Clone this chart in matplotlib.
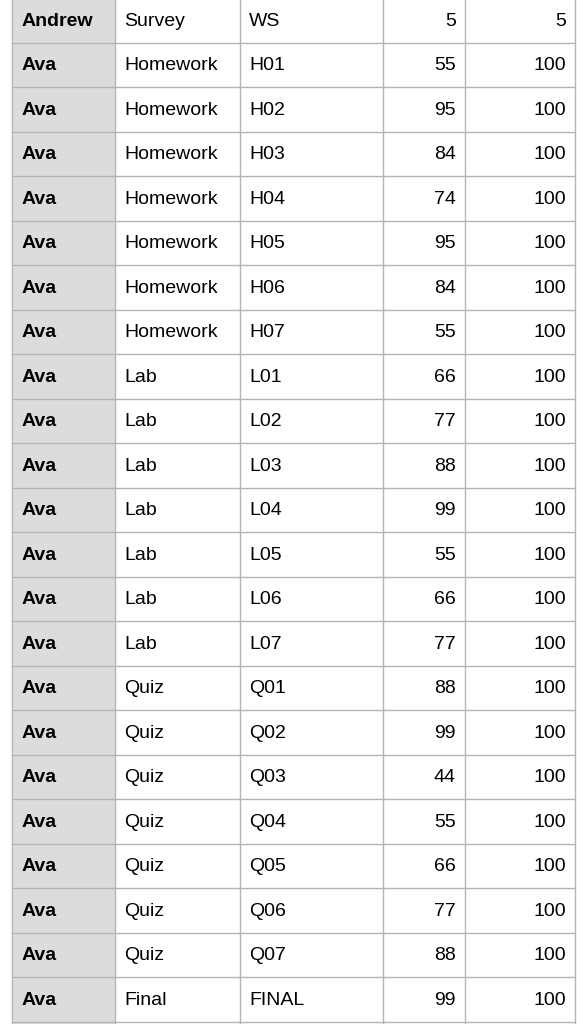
import matplotlib.pyplot as plt
from matplotlib.patches import Rectangle

names = ["Andrew"] + ["Ava"] * 22
categories = (["Survey"] + ["Homework"] * 7 + ["Lab"] * 7 + ["Quiz"] * 7
              + ["Final"])
items = ["WS", "H01", "H02", "H03", "H04", "H05", "H06", "H07",
         "L01", "L02", "L03", "L04", "L05", "L06", "L07",
         "Q01", "Q02", "Q03", "Q04", "Q05", "Q06", "Q07", "FINAL"]
scores = [5, 55, 95, 84, 74, 95, 84, 55, 66, 77, 88, 99, 55, 66, 77,
          88, 99, 44, 55, 66, 77, 88, 99]
possible = [5] + [100] * 22

W, H = 583, 1024
fig = plt.figure(figsize=(W / 100, H / 100), dpi=100)
ax = fig.add_axes([0, 0, 1, 1])
ax.set_xlim(0, W)
ax.set_ylim(H, 0)
ax.axis("off")

col_edges = [12, 115, 240, 383, 465, 575]
row_h = 44.5
top0 = -2
n_rows = len(names) + 1  # one partial row at the bottom
line_c = "#b4b4b4"

# gray first column
ax.add_patch(Rectangle((col_edges[0], 0), col_edges[1] - col_edges[0], H,
                       facecolor="#dcdcdc", edgecolor="none"))

for x in col_edges:
    ax.plot([x, x], [0, H], color=line_c, lw=1)
for i in range(n_rows + 1):
    y = top0 + row_h * i
    ax.plot([col_edges[0], col_edges[-1]], [y, y], color=line_c, lw=1)

fs = 14
for i in range(len(names)):
    yc = top0 + row_h * i + row_h / 2 + 1
    ax.text(col_edges[0] + 10, yc, names[i], fontsize=fs, fontweight="bold",
            family="Liberation Sans", va="center", ha="left")
    ax.text(col_edges[1] + 9, yc, categories[i], fontsize=fs,
            family="Liberation Sans", va="center", ha="left")
    ax.text(col_edges[2] + 9, yc, items[i], fontsize=fs,
            family="Liberation Sans", va="center", ha="left")
    ax.text(col_edges[4] - 9, yc, str(scores[i]), fontsize=fs,
            family="Liberation Sans", va="center", ha="right")
    ax.text(col_edges[5] - 9, yc, str(possible[i]), fontsize=fs,
            family="Liberation Sans", va="center", ha="right")

fig.savefig("out.png", dpi=100)
